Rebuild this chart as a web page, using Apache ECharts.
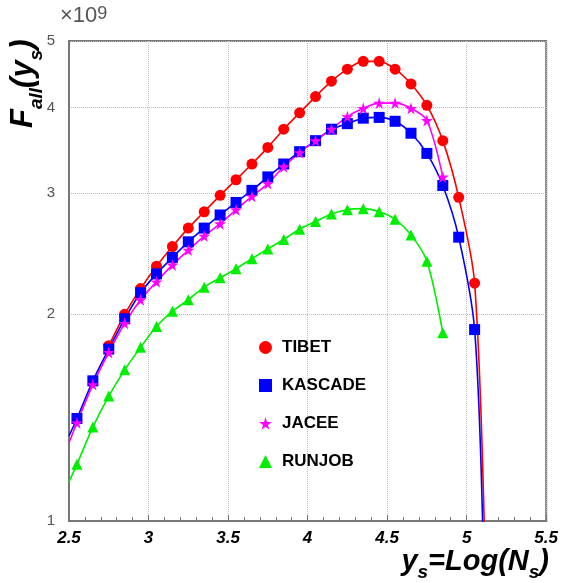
<!DOCTYPE html>
<html>
<head>
<meta charset="utf-8">
<script src="https://cdn.jsdelivr.net/npm/echarts@6/dist/echarts.min.js"></script>
<style>
  html, body { margin: 0; padding: 0; background: #fff; }
  #chart { width: 561px; height: 583px; }
</style>
</head>
<body>
<div id="chart"></div>
<script>
// x positions of the points (log of shower size)
var xVals = [2.55, 2.65, 2.75, 2.85, 2.95, 3.05, 3.15, 3.25, 3.35, 3.45, 3.55, 3.65, 3.75,
  3.85, 3.95, 4.05, 4.15, 4.25, 4.35, 4.45, 4.55, 4.65, 4.75, 4.85, 4.95, 5.05];
// values in units of 1e9
var tibet = [null, null, 1.80, 2.00, 2.18, 2.35, 2.51, 2.67, 2.82, 2.98, 3.14, 3.31, 3.50,
  3.72, 3.93, 4.15, 4.37, 4.55, 4.67, 4.67, 4.55, 4.33, 4.03, 3.58, 2.96, 2.22];
var kascade = [1.41, 1.60, 1.78, 1.97, 2.15, 2.29, 2.42, 2.55, 2.67, 2.79, 2.91, 3.03, 3.17,
  3.31, 3.45, 3.58, 3.72, 3.79, 3.86, 3.87, 3.82, 3.67, 3.43, 3.08, 2.59, 1.90];
var jacee = [1.39, 1.58, 1.76, 1.94, 2.10, 2.23, 2.36, 2.48, 2.60, 2.71, 2.84, 2.97, 3.10,
  3.28, 3.44, 3.58, 3.72, 3.88, 3.99, 4.06, 4.06, 3.99, 3.83, 3.17, null, null];
var runjob = [1.21, 1.37, 1.52, 1.66, 1.79, 1.92, 2.02, 2.10, 2.19, 2.26, 2.33, 2.41, 2.49,
  2.57, 2.66, 2.73, 2.80, 2.84, 2.85, 2.82, 2.75, 2.61, 2.39, 1.88, null, null];
// ends of the fitted curves (no marker)
var curveStart = { KASCADE: [2.5, 1.33], JACEE: [2.5, 1.30], RUNJOB: [2.5, 1.14] };
var curveEnd = { TIBET: [5.115, 0.9], KASCADE: [5.105, 0.9] };
var xTicks = [2.5, 3, 3.5, 4, 4.5, 5, 5.5];
var yTicks = [1, 2, 3, 4, 5];

var starPath = 'path://M50,0 L61,35 L98,35 L68,57 L79,91 L50,70 L21,91 L32,57 L2,35 L39,35 Z';

function buildData(name, vals) {
  var out = [];
  if (curveStart[name]) out.push({ value: curveStart[name], symbol: 'none' });
  for (var i = 0; i < xVals.length; i++) {
    if (vals[i] != null) out.push([xVals[i], vals[i]]);
  }
  if (curveEnd[name]) out.push({ value: curveEnd[name], symbol: 'none' });
  return out;
}

function mkSeries(name, vals, color, symbol, size) {
  return {
    name: name,
    type: 'line',
    smooth: 0.3,
    clip: true,
    symbol: symbol,
    symbolSize: size,
    showAllSymbol: true,
    lineStyle: { color: color, width: 1.6 },
    itemStyle: { color: color },
    data: buildData(name, vals)
  };
}

var myChart = echarts.init(document.getElementById('chart'));
var option = {
  animation: false,
  backgroundColor: '#fff',
  grid: {
    left: 69, right: 14, top: 41, bottom: 62,
    show: true, borderColor: '#777', borderWidth: 2
  },
  legend: {
    orient: 'vertical',
    left: 254,
    top: 334,
    itemWidth: 13,
    itemHeight: 13,
    itemGap: 21,
    textStyle: { fontFamily: 'Liberation Sans', fontWeight: 'bold', fontSize: 17, color: '#000', padding: [0, 0, 0, 5] },
    data: [
      { name: 'TIBET', icon: 'circle' },
      { name: 'KASCADE', icon: 'rect' },
      { name: 'JACEE', icon: starPath },
      { name: 'RUNJOB', icon: 'triangle' }
    ]
  },
  xAxis: {
    type: 'value',
    min: 2.5, max: 5.5, interval: 0.5,
    axisLine: { lineStyle: { color: '#777', width: 2 } },
    axisTick: { inside: true, length: 6, lineStyle: { color: '#777' } },
    minorTick: { show: true, splitNumber: 5, length: 4, lineStyle: { color: '#777' } },
    splitLine: { show: true, lineStyle: { color: '#bbb', type: 'dotted', width: 1 } },
    axisLabel: {
      color: '#000', fontFamily: 'Liberation Sans', fontWeight: 'bold', fontStyle: 'italic',
      fontSize: 17, margin: 9,
      customValues: xTicks
    }
  },
  yAxis: {
    type: 'log',
    logBase: 10,
    min: 1, max: 5,
    axisLine: { lineStyle: { color: '#777', width: 2 } },
    axisTick: { show: false, customValues: yTicks },
    splitLine: { show: true, lineStyle: { color: '#bbb', type: 'dotted', width: 1 } },
    axisLabel: {
      color: '#555', fontFamily: 'Liberation Sans', fontSize: 15, margin: 14,
      customValues: yTicks
    }
  },
  graphic: [
    {
      type: 'text', left: 60, top: 5,
      style: {
        text: '{m|×10}{p|9}',
        rich: {
          m: { fontFamily: 'Liberation Sans', fontSize: 22, fill: '#555', verticalAlign: 'bottom' },
          p: { fontFamily: 'Liberation Sans', fontSize: 18, fill: '#555', verticalAlign: 'top' }
        }
      }
    },
    {
      type: 'text', x: 8, y: 128, rotation: Math.PI / 2,
      style: {
        text: '{m|F}{s|all}{m|(y}{s|s}{m|)}',
        rich: {
          m: { fontFamily: 'Liberation Sans', fontWeight: 'bold', fontStyle: 'italic', fontSize: 31, fill: '#000', verticalAlign: 'bottom', padding: [0, 0, 7, 0] },
          s: { fontFamily: 'Liberation Sans', fontWeight: 'bold', fontStyle: 'italic', fontSize: 19, fill: '#000', verticalAlign: 'bottom' }
        }
      }
    },
    {
      type: 'text', right: 12, top: 547,
      style: {
        text: '{m|y}{s|s}{m|=Log(N}{s|s}{m|)}',
        rich: {
          m: { fontFamily: 'Liberation Sans', fontWeight: 'bold', fontStyle: 'italic', fontSize: 29, fill: '#000', verticalAlign: 'bottom', padding: [0, 0, 6, 0] },
          s: { fontFamily: 'Liberation Sans', fontWeight: 'bold', fontStyle: 'italic', fontSize: 19, fill: '#000', verticalAlign: 'bottom' }
        }
      }
    }
  ],
  series: [
    mkSeries('TIBET', tibet, '#ff0000', 'circle', 11),
    mkSeries('KASCADE', kascade, '#0000ff', 'rect', 11),
    mkSeries('JACEE', jacee, '#ff00ff', starPath, 12),
    mkSeries('RUNJOB', runjob, '#00ee00', 'triangle', 11)
  ]
};
myChart.setOption(option);
</script>
</body>
</html>
